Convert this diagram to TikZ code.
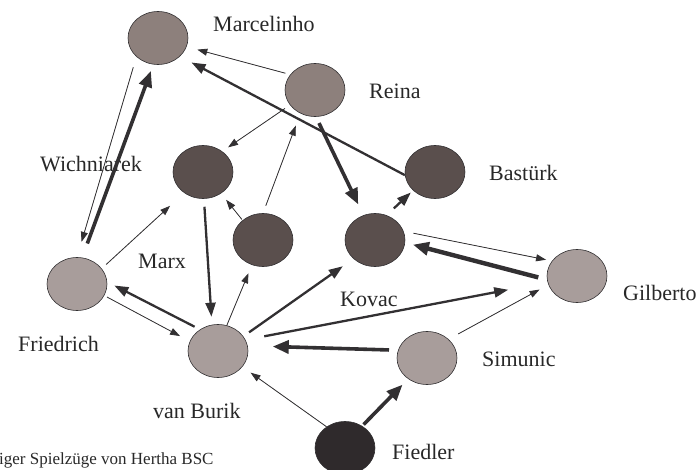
\documentclass[tikz,border=0pt]{standalone}
\usepackage{fontspec}
\setmainfont{Liberation Serif}
\usetikzlibrary{shapes.geometric, arrows.meta}
\definecolor{topgray}{RGB}{141,128,124}
\definecolor{palegray}{RGB}{168,157,155}
\definecolor{darkgray}{RGB}{90,79,77}
\definecolor{blackgray}{RGB}{47,42,44}
\definecolor{linegray}{RGB}{50,48,50}
\definecolor{textgray}{RGB}{40,40,40}

\begin{document}
\begin{tikzpicture}[
    x=1pt, y=-1pt,
    player/.style={ellipse, draw=linegray, line width=0.6pt, minimum width=60pt, minimum height=53pt, inner sep=0pt},
    topplayer/.style={player, fill=topgray},
    paleplayer/.style={player, fill=palegray},
    darkplayer/.style={player, fill=darkgray},
    blackplayer/.style={player, fill=blackgray},
    lbl/.style={anchor=base west, inner sep=0pt, text=textgray, font=\fontsize{22}{26}\selectfont},
    thinpass/.style={-{Triangle[length=10pt, width=7pt]}, line width=0.8pt, draw=linegray, fill=linegray},
    midpass/.style={-{Triangle[length=14pt, width=10pt]}, line width=2.3pt, draw=linegray, fill=linegray},
    boldpass/.style={-{Triangle[length=16pt, width=13pt]}, line width=3.6pt, draw=linegray, fill=linegray}
]
    \useasboundingbox (0,0) rectangle (697,470);

    \node[topplayer] (marcelinho) at (158,38) {};
    \node[topplayer] (reina) at (315,90) {};
    \node[darkplayer] (wichniarek) at (203,172) {};
    \node[darkplayer] (marx) at (263,240) {};
    \node[darkplayer] (basturk) at (435,172) {};
    \node[darkplayer] (kovac) at (375,240) {};
    \node[paleplayer] (gilberto) at (577,276) {};
    \node[paleplayer] (simunic) at (427,358) {};
    \node[blackplayer] (fiedler) at (345,448) {};
    \node[paleplayer] (friedrich) at (77,284) {};
    \node[paleplayer] (vanburik) at (218,351) {};

    \node[lbl] (marcelinho-lbl) at (213,32) {Marcelinho};
    \node[lbl] (reina-lbl) at (369,99) {Reina};
    \node[lbl] (wichniarek-lbl) at (40,172) {Wichniarek};
    \node[lbl] (basturk-lbl) at (489,181) {Bastürk};
    \node[lbl] (marx-lbl) at (138,269) {Marx};
    \node[lbl] (kovac-lbl) at (340,307) {Kovac};
    \node[lbl] (gilberto-lbl) at (623,301) {Gilberto};
    \node[lbl] (friedrich-lbl) at (18,352) {Friedrich};
    \node[lbl] (vanburik-lbl) at (153,419) {van Burik};
    \node[lbl] (simunic-lbl) at (482,367) {Simunic};
    \node[lbl] (fiedler-lbl) at (392,460) {Fiedler};
    \node[lbl, font=\fontsize{17}{20}\selectfont] (caption) at (-1,465) {iger Spielzüge von Hertha BSC};

    \draw[thinpass, shorten <=5pt, shorten >=11pt] (reina.148) -- (marcelinho.-17);
    \draw[midpass, shorten >=13pt] (basturk.186) -- (marcelinho.-40);
    \draw[thinpass, shorten <=11pt, shorten >=16pt] (marcelinho.221) -- (friedrich.90);
    \draw[boldpass, shorten <=15pt, shorten >=7pt] (friedrich.79) -- (marcelinho.260);
    \draw[thinpass, shorten <=6pt, shorten >=7pt] (reina.211) -- (wichniarek.47);
    \draw[boldpass, shorten <=7pt, shorten >=12pt] (reina.-88) -- (kovac.115);
    \draw[thinpass, shorten <=8pt, shorten >=13pt] (marx.90) -- (reina.238);
    \draw[thinpass, shorten <=1pt, shorten >=8pt] (marx.136) -- (wichniarek.-50);
    \draw[thinpass, shorten <=6pt, shorten >=19pt] (friedrich.32) -- (wichniarek.228);
    \draw[midpass, shorten <=8pt, shorten >=8pt] (wichniarek.-88) -- (vanburik.103);
    \draw[midpass, shorten <=10pt, shorten >=3pt] (kovac.65) -- (basturk.220);
    \draw[thinpass, shorten <=10pt, shorten >=6pt] (kovac.17) -- (gilberto.149);
    \draw[boldpass, line width=4.4pt, shorten <=9pt, shorten >=8pt] (gilberto.187) -- (kovac.-5);
    \draw[midpass, shorten <=6pt, shorten >=8pt] (vanburik.130) -- (friedrich.4);
    \draw[thinpass, shorten <=3pt, shorten >=11pt] (friedrich.-23) -- (vanburik.161);
    \draw[thinpass, shorten >=9pt] (vanburik.71) -- (marx.246);
    \draw[midpass, shorten <=7pt, shorten >=13pt] (vanburik.30) -- (kovac.221);
    \draw[midpass, shorten <=19pt, shorten >=40pt] (vanburik.22) -- (gilberto.192);
    \draw[boldpass, shorten <=9pt, shorten >=25pt] (simunic.165) -- (vanburik.10);
    \draw[thinpass, shorten <=11pt, shorten >=10pt] (simunic.41) -- (gilberto.197);
    \draw[thinpass, shorten >=10pt] (fiedler.131) -- (vanburik.-33);
    \draw[boldpass, shorten <=2pt, shorten >=8pt] (fiedler.52) -- (simunic.228);
\end{tikzpicture}
\end{document}
